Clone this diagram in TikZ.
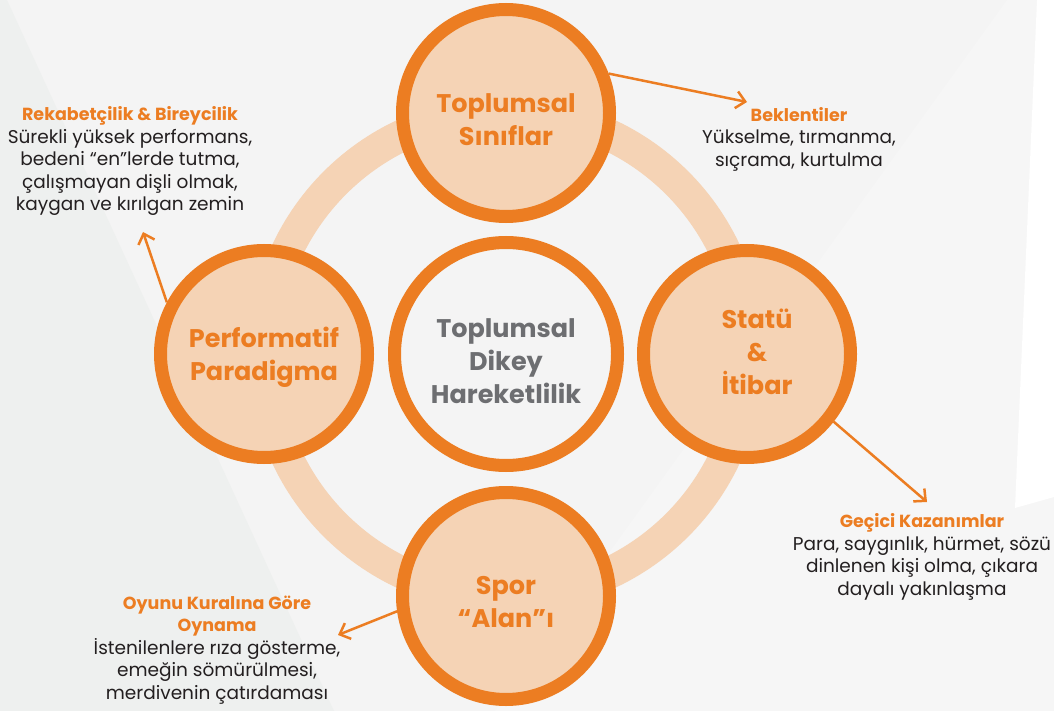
\documentclass[tikz,border=0pt]{standalone}
\usepackage{fontspec}
\setmainfont{Poppins}
\usetikzlibrary{arrows.meta}

\definecolor{turuncu}{HTML}{EC7D22}
\definecolor{seftali}{HTML}{F5D3B5}
\definecolor{zemin}{HTML}{F4F4F4}
\definecolor{koyuzemin}{HTML}{EEF0EF}
\definecolor{acikzemin}{HTML}{F6F6F6}
\definecolor{gri}{HTML}{6D6E71}
\definecolor{metin}{HTML}{231F20}

\tikzset{
  halka/.style={circle, draw=turuncu, line width=13pt, fill=seftali, minimum size=207pt, inner sep=0pt},
  halkayazi/.style={align=center, font=\bfseries\fontsize{25.5}{33}\selectfont, text=turuncu},
  aciklama/.style={align=center, font=\fontsize{18.5}{22.5}\selectfont, text=metin},
  ok/.style={draw=turuncu, line width=2.5pt, -{Straight Barb[length=9pt,width=17pt,line width=2.5pt]}}
}
\newcommand{\baslik}[1]{\textcolor{turuncu}{\bfseries\fontsize{17.5}{22.5}\selectfont #1}}

\begin{document}
\begin{tikzpicture}[x=1pt, y=-1pt]
        \useasboundingbox (0,0) rectangle (1054,711);
        % zemin
        \fill[zemin] (0,0) rectangle (1054,711);
        \fill[koyuzemin] (0,0) -- (7,0) -- (334,711) -- (0,711) -- cycle;
        \fill[acikzemin] (1007,0) -- (1054,0) -- (1054,711) -- (495,711) -- cycle;
        \fill[white] (1037,0) -- (1054,0) -- (1054,497) -- (1015,508) -- cycle;

        % buyuk halka
        \draw[seftali, line width=32pt] (506,354) circle[radius=242];

        \node (merkez) [halka, fill=zemin, minimum size=223pt] at (506,354) {};
        \node (siniflar) [halka] at (506,113) {};
        \node (statu) [halka] at (747,354) {};
        \node (spor) [halka] at (506,596) {};
        \node (perf) [halka] at (264,354) {};

        \node (merkezYazi) [halkayazi, text=gri] at (506,361) {Toplumsal\\Dikey\\Hareketlilik};
        \node (siniflarYazi) [halkayazi] at (506,120) {Toplumsal\\Sınıflar};
        \node (statuYazi) [halkayazi] at (757,352) {Statü\\\&\\İtibar};
        \node (sporYazi) [halkayazi] at (506,602) {Spor\\“Alan”ı};
        \node (perfYazi) [halkayazi] at (264,357) {Performatif\\Paradigma};

        \node (beklenti) [aciklama] at (799,139) {\baslik{Beklentiler}\\Yükselme, tırmanma,\\sıçrama, kurtulma};
        \node (kazanim) [aciklama] at (922,557) {\baslik{Geçici Kazanımlar}\\Para, saygınlık, hürmet, sözü\\dinlenen kişi olma, çıkara\\dayalı yakınlaşma};
        \node (oyun) [aciklama] at (217,650) {\baslik{Oyunu Kuralına Göre}\\\baslik{Oynama}\\İstenilenlere rıza gösterme,\\emeğin sömürülmesi,\\merdivenin çatırdaması};
        \node (rekabet) [aciklama] at (130,161) {\baslik{Rekabetçilik \& Bireycilik}\\Sürekli yüksek performans,\\bedeni “en”lerde tutma,\\çalışmayan dişli olmak,\\kaygan ve kırılgan zemin};

        \coordinate (beklentiUc) at (747,102);
        \coordinate (kazanimUc) at (927,502);
        \coordinate (oyunUc) at (338,635);
        \coordinate (rekabetUc) at (143,232);

        \draw[ok] (siniflar.21) -- (beklentiUc);
        \draw[ok] (statu.-38) -- (kazanimUc);
        \draw[ok] (spor.188) -- (oyunUc);
        \draw[ok] (perf.152) -- (rekabetUc);
\end{tikzpicture}
\end{document}
